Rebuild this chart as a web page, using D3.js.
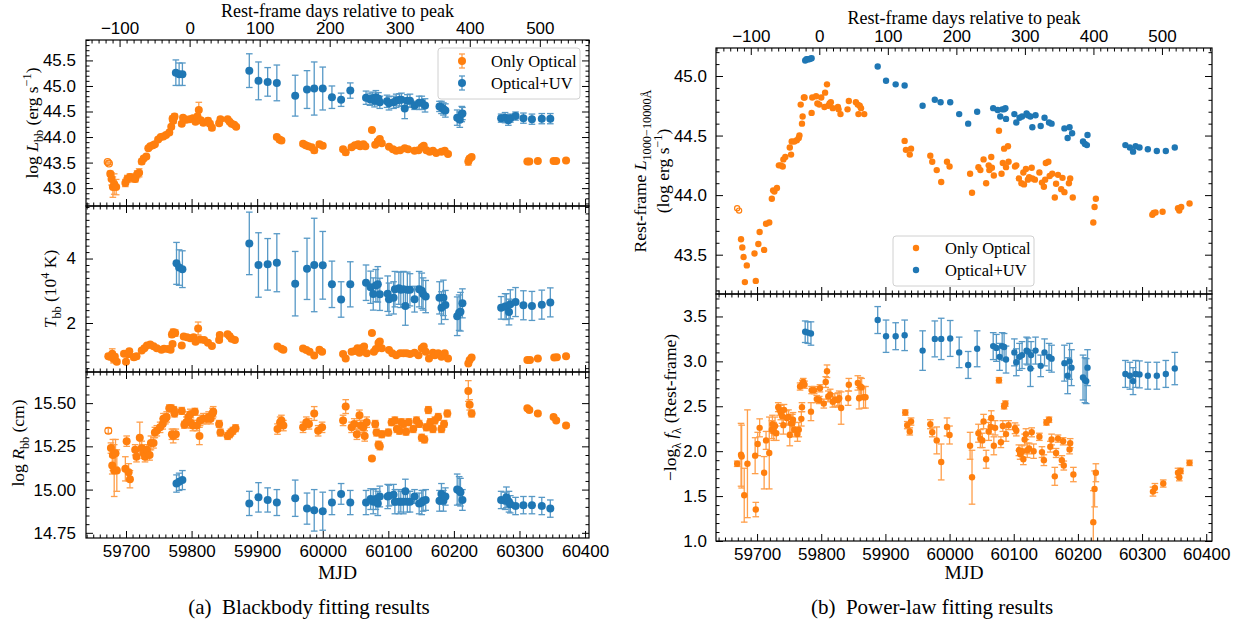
<!DOCTYPE html>
<html>
<head>
<meta charset="utf-8">
<script src="https://cdn.jsdelivr.net/npm/d3@7"></script>
<style>
  body { margin: 0; background: #fff; }
  svg { font-family: "Liberation Serif", "Times New Roman", serif; }
  .tick text { font-size: 17px; fill: #000; }
  .tick line { stroke: #000; }
</style>
</head>
<body>
<svg id="chart" width="1245" height="624"></svg>
<script>
// [MJD, value, error, hollow]
const bbLumOpt = [
  [59672,43.51,0.02,1],[59674,43.48,0.02,1],[59676,43.28,0.05],[59678,43.18,0.12],[59680,43.02,0.2],
  [59682,43.08,0.2],[59685,43.02,0.15],[59699,43.10,0.07],[59702,43.18,0.07],[59706,43.22,0.06],
  [59710,43.20,0.08],[59714,43.18,0.06],[59717,43.27,0.07],[59720,43.30,0.08],[59724,43.52,0.05],
  [59727,43.58,0.04],[59731,43.62,0.04],[59734,43.78,0.03],[59737,43.82,0.03],[59741,43.84,0.03],
  [59744,43.86,0.03],[59749,43.95,0.03],[59753,44.00,0.03],[59757,44.01,0.03],[59761,44.04,0.03],
  [59766,44.09,0.04],[59769,44.20,0.04],[59771,44.36,0.05],[59772,44.32,0.05],[59774,44.40,0.05],
  [59785,44.26,0.04],[59787,44.38,0.04],[59792,44.34,0.04],[59797,44.35,0.04],[59802,44.37,0.04],
  [59806,44.30,0.04],[59809,44.40,0.05],[59811,44.53,0.15],[59814,44.33,0.04],[59818,44.28,0.05],
  [59825,44.32,0.05],[59828,44.26,0.05],[59831,44.18,0.05],[59842,44.27,0.04],[59844,44.35,0.04],
  [59855,44.35,0.03],[59858,44.30,0.03],[59861,44.26,0.03],[59865,44.24,0.03],[59868,44.20,0.03],
  [59930,44.00,0.04],[59934,43.95,0.04],[59937,43.93,0.04],[59970,43.87,0.04],[59974,43.84,0.03],
  [59978,43.82,0.03],[59983,43.80,0.03],[59987,43.74,0.05],[59995,43.86,0.04],[60000,43.83,0.04],
  [60031,43.76,0.04],[60035,43.70,0.05],[60044,43.80,0.04],[60049,43.84,0.03],[60054,43.86,0.03],
  [60057,43.82,0.03],[60062,43.86,0.03],[60065,43.82,0.03],[60075,44.14,0.02],[60080,43.85,0.03],
  [60084,43.92,0.03],[60087,43.96,0.03],[60090,43.88,0.03],[60101,43.81,0.03],[60107,43.76,0.03],
  [60112,43.73,0.03],[60118,43.74,0.03],[60125,43.78,0.03],[60130,43.76,0.03],[60140,43.73,0.03],
  [60146,43.74,0.03],[60151,43.80,0.03],[60154,43.83,0.03],[60158,43.74,0.03],[60163,43.71,0.03],
  [60168,43.73,0.03],[60173,43.69,0.03],[60181,43.71,0.03],[60186,43.73,0.03],[60191,43.67,0.03],
  [60222,43.52,0.07],[60224,43.58,0.04],[60227,43.61,0.03],[60312,43.52,0.02],[60315,43.52,0.02],
  [60328,43.53,0.02],[60352,43.53,0.02],[60356,43.53,0.02],[60371,43.54,0.02]
];
const bbLumUV = [
  [59776,45.26,0.25],[59781,45.23,0.22],[59786,45.23,0.22],[59888,45.30,0.33],[59902,45.10,0.37],
  [59916,45.08,0.28],[59930,45.06,0.35],[59958,44.81,0.40],[59976,44.93,0.37],[59987,44.95,0.52],
  [60000,44.95,0.42],[60014,44.78,0.22],[60028,44.73,0.13],[60042,44.91,0.15],[60066,44.77,0.13],
  [60072,44.74,0.12],[60076,44.76,0.12],[60079,44.71,0.12],[60081,44.78,0.13],[60085,44.75,0.12],
  [60087,44.68,0.12],[60098,44.70,0.12],[60101,44.66,0.13],[60108,44.68,0.12],[60112,44.71,0.13],
  [60117,44.73,0.12],[60120,44.73,0.13],[60125,44.56,0.2],[60129,44.71,0.12],[60133,44.71,0.13],
  [60140,44.62,0.08],[60147,44.67,0.13],[60151,44.67,0.13],[60156,44.62,0.13],[60178,44.60,0.1],
  [60181,44.58,0.12],[60184,44.55,0.12],[60187,44.52,0.13],[60205,44.38,0.15],[60209,44.34,0.15],
  [60212,44.45,0.15],[60213,44.46,0.12],[60272,44.37,0.08],[60278,44.38,0.1],[60283,44.33,0.1],
  [60286,44.37,0.08],[60294,44.41,0.08],[60306,44.37,0.1],[60319,44.35,0.1],[60334,44.36,0.1],
  [60347,44.36,0.1]
];
const bbTempOpt = [
  [59673,0.97,0.06],[59676,0.95,0.08],[59679,1.05,0.15],[59681,0.88,0.12],[59683,0.95,0.08],
  [59686,0.80,0.06],[59697,1.05,0.06],[59700,0.80,0.05],[59703,1.03,0.06],[59705,1.12,0.06],
  [59712,0.94,0.08],[59716,0.97,0.08],[59724,1.15,0.05],[59728,1.22,0.05],[59732,1.30,0.05],
  [59737,1.33,0.05],[59742,1.28,0.05],[59747,1.22,0.05],[59754,1.17,0.05],[59758,1.20,0.05],
  [59764,1.19,0.05],[59768,1.17,0.05],[59770,1.64,0.08],[59772,1.71,0.1],[59775,1.69,0.1],
  [59771,1.35,0.05],[59785,1.30,0.05],[59788,1.58,0.06],[59793,1.56,0.06],[59798,1.53,0.06],
  [59803,1.56,0.06],[59806,1.42,0.06],[59810,1.83,0.2],[59813,1.49,0.06],[59819,1.47,0.06],
  [59825,1.39,0.06],[59831,1.29,0.05],[59842,1.47,0.06],[59843,1.63,0.06],[59855,1.65,0.06],
  [59858,1.59,0.06],[59861,1.51,0.06],[59866,1.47,0.05],[59931,1.27,0.06],[59937,1.20,0.05],
  [59940,1.17,0.05],[59970,1.21,0.05],[59975,1.16,0.05],[59980,1.11,0.05],[59987,0.99,0.05],
  [59995,1.17,0.05],[59999,1.11,0.05],[60031,1.04,0.05],[60035,0.90,0.05],[60044,1.11,0.05],
  [60049,1.13,0.05],[60053,1.22,0.05],[60056,1.08,0.05],[60059,1.22,0.05],[60063,1.27,0.05],
  [60067,1.06,0.05],[60075,1.69,0.04],[60078,1.11,0.05],[60081,1.19,0.05],[60085,1.38,0.05],
  [60087,1.43,0.05],[60090,1.22,0.05],[60101,1.16,0.04],[60106,1.06,0.04],[60112,1.00,0.04],
  [60118,1.06,0.04],[60123,1.06,0.04],[60128,1.06,0.04],[60133,1.04,0.04],[60140,1.08,0.04],
  [60146,1.00,0.04],[60151,1.22,0.04],[60154,1.27,0.04],[60157,1.11,0.04],[60162,0.90,0.04],
  [60168,1.08,0.04],[60171,1.00,0.04],[60176,1.06,0.04],[60181,0.95,0.04],[60186,1.06,0.04],
  [60191,0.90,0.04],[60222,0.74,0.04],[60224,0.85,0.04],[60227,0.93,0.04],[60312,0.85,0.03],
  [60316,0.85,0.03],[60328,0.90,0.03],[60353,0.93,0.03],[60357,0.94,0.03],[60371,0.97,0.03]
];
const bbTempUV = [
  [59777,3.85,0.65],[59781,3.72,0.55],[59786,3.67,0.57],[59888,4.47,0.97],[59902,3.80,1.0],
  [59916,3.82,0.8],[59930,3.87,0.9],[59958,3.22,1.0],[59976,3.68,0.95],[59987,3.80,1.45],
  [60000,3.79,1.05],[60014,3.20,0.72],[60028,2.73,0.55],[60042,3.20,0.7],[60066,3.25,0.55],
  [60073,3.11,0.5],[60077,2.90,0.5],[60081,3.16,0.5],[60084,3.20,0.55],[60087,2.89,0.5],
  [60099,2.91,0.55],[60101,2.74,0.5],[60108,2.78,0.5],[60110,3.05,0.55],[60116,3.08,0.5],
  [60119,3.03,0.55],[60123,3.05,0.55],[60126,2.53,0.6],[60129,3.03,0.55],[60133,3.03,0.5],
  [60140,2.74,0.4],[60147,3.05,0.55],[60151,3.00,0.55],[60153,2.90,0.5],[60157,2.82,0.5],
  [60178,2.78,0.5],[60181,2.47,0.5],[60184,2.78,0.55],[60187,2.56,0.45],[60205,2.21,0.6],
  [60208,2.32,0.55],[60210,2.35,0.6],[60213,2.61,0.45],[60272,2.47,0.35],[60278,2.51,0.4],
  [60280,2.51,0.4],[60284,2.34,0.4],[60286,2.58,0.45],[60294,2.65,0.45],[60306,2.55,0.45],
  [60319,2.53,0.45],[60334,2.57,0.45],[60347,2.64,0.45]
];
const bbRadOpt = [
  [59673,15.34,0.015,1],[59677,15.24,0.03],[59679,15.14,0.05],[59680,15.20,0.09],[59682,15.11,0.15],
  [59684,15.21,0.08],[59686,15.11,0.12],[59699,15.12,0.07],[59701,15.28,0.03],[59704,15.10,0.05],
  [59706,15.06,0.05],[59714,15.23,0.03],[59716,15.19,0.03],[59721,15.30,0.09],[59724,15.24,0.04],
  [59727,15.21,0.03],[59729,15.19,0.03],[59732,15.23,0.03],[59736,15.20,0.03],[59738,15.27,0.04],
  [59742,15.27,0.03],[59744,15.33,0.03],[59747,15.34,0.03],[59752,15.36,0.03],[59756,15.38,0.03],
  [59757,15.41,0.03],[59760,15.41,0.03],[59762,15.42,0.03],[59766,15.47,0.02],[59769,15.47,0.02],
  [59770,15.32,0.03],[59772,15.31,0.04],[59773,15.46,0.02],[59774,15.44,0.02],[59776,15.32,0.03],
  [59785,15.455,0.02],[59789,15.375,0.02],[59792,15.39,0.03],[59795,15.42,0.03],[59798,15.435,0.03],
  [59799,15.385,0.03],[59802,15.37,0.03],[59805,15.45,0.02],[59808,15.37,0.03],[59812,15.31,0.05],
  [59813,15.40,0.03],[59818,15.41,0.03],[59823,15.41,0.03],[59826,15.42,0.03],[59829,15.41,0.03],
  [59832,15.44,0.03],[59833,15.45,0.03],[59842,15.38,0.02],[59844,15.33,0.02],[59855,15.31,0.02],
  [59858,15.32,0.02],[59860,15.33,0.02],[59863,15.34,0.02],[59867,15.355,0.02],[59931,15.35,0.03],
  [59935,15.39,0.03],[59937,15.40,0.03],[59940,15.37,0.03],[59970,15.36,0.03],[59975,15.39,0.03],
  [59979,15.38,0.03],[59987,15.44,0.04],[59993,15.34,0.03],[59999,15.36,0.03],[60031,15.40,0.03],
  [60035,15.48,0.04],[60044,15.36,0.03],[60048,15.38,0.03],[60052,15.32,0.03],[60056,15.43,0.03],
  [60058,15.37,0.03],[60062,15.36,0.03],[60064,15.31,0.03],[60067,15.39,0.03],[60075,15.18,0.01],
  [60080,15.38,0.02],[60082,15.33,0.02],[60085,15.26,0.02],[60087,15.25,0.02],[60090,15.32,0.02],
  [60100,15.33,0.02],[60105,15.39,0.02],[60110,15.40,0.02],[60113,15.35,0.02],[60117,15.34,0.02],
  [60120,15.39,0.02],[60123,15.38,0.02],[60127,15.335,0.02],[60131,15.39,0.02],[60138,15.35,0.02],
  [60143,15.40,0.02],[60147,15.38,0.02],[60151,15.30,0.02],[60155,15.29,0.02],[60158,15.36,0.02],
  [60161,15.46,0.02],[60164,15.39,0.02],[60168,15.35,0.02],[60171,15.40,0.02],[60176,15.42,0.02],
  [60181,15.35,0.02],[60185,15.38,0.02],[60190,15.44,0.02],[60222,15.57,0.06],[60224,15.49,0.03],
  [60227,15.44,0.02],[60312,15.47,0.01],[60315,15.46,0.01],[60328,15.44,0.01],[60352,15.42,0.01],
  [60356,15.40,0.01],[60371,15.37,0.01]
];
const bbRadUV = [
  [59777,15.035,0.05],[59781,15.045,0.05],[59786,15.055,0.055],[59888,14.92,0.07],[59902,14.955,0.085],
  [59916,14.94,0.07],[59930,14.925,0.075],[59958,14.95,0.105],[59976,14.89,0.09],[59987,14.88,0.12],
  [60000,14.875,0.11],[60014,14.925,0.07],[60028,14.975,0.06],[60042,14.925,0.07],[60066,14.925,0.07],
  [60073,14.945,0.06],[60077,14.93,0.07],[60081,14.945,0.06],[60084,14.92,0.07],[60087,14.96,0.06],
  [60099,14.96,0.07],[60101,14.965,0.06],[60108,14.97,0.06],[60110,14.93,0.07],[60116,14.93,0.07],
  [60119,14.93,0.06],[60123,14.93,0.07],[60126,14.99,0.07],[60129,14.93,0.06],[60133,14.93,0.06],
  [60140,14.96,0.04],[60147,14.92,0.06],[60151,14.925,0.07],[60153,14.935,0.06],[60157,14.94,0.06],
  [60178,14.935,0.06],[60181,14.975,0.06],[60184,14.935,0.06],[60187,14.96,0.05],[60205,15.00,0.09],
  [60208,14.995,0.08],[60210,14.985,0.08],[60213,14.94,0.06],[60272,14.94,0.05],[60278,14.935,0.05],
  [60280,14.955,0.06],[60284,14.93,0.06],[60286,14.915,0.05],[60294,14.905,0.05],[60306,14.91,0.05],
  [60319,14.91,0.05],[60334,14.905,0.05],[60347,14.89,0.05]
];
// power-law fits: [MJD, value, error, hollow]
const plLumOpt = [
  [59669,43.89,0,1],[59672,43.87,0,1],[59675,43.63],[59677,43.56],[59679,43.48],[59681,43.27],
  [59684,43.41],[59696,43.51],[59698,43.28],[59702,43.59],[59704,43.69],[59711,43.54],[59714,43.76],
  [59719,43.77],[59723,43.97],[59725,44.04],[59727,44.03],[59731,44.06],[59734,44.25],[59737,44.25],
  [59740,44.24],[59741,44.30],[59744,44.32],[59751,44.40],[59753,44.34],[59754,44.45],[59758,44.45],
  [59762,44.46],[59765,44.48],[59766,44.50],[59768,44.76],[59770,44.60],[59771,44.66],[59773,44.82],
  [59774,44.82],[59785,44.69],[59786,44.82],[59792,44.83],[59794,44.77],[59797,44.76],[59800,44.82],
  [59805,44.74],[59806,44.86],[59809,44.93],[59811,44.75],[59813,44.77],[59815,44.78],[59818,44.73],
  [59826,44.74],[59827,44.72],[59830,44.68],[59841,44.72],[59843,44.79],[59854,44.78],[59857,44.76],
  [59858,44.68],[59860,44.75],[59862,44.73],[59867,44.68],[59930,44.455],[59932,44.38],[59938,44.34],
  [59940,44.39],[59970,44.33],[59973,44.28],[59980,44.21],[59987,44.11],[59996,44.28],[60000,44.24],
  [60032,44.18],[60035,44.02],[60045,44.235],[60048,44.21],[60053,44.30],[60057,44.10],[60061,44.25],
  [60062,44.21],[60065,44.32],[60066,44.23],[60069,44.165],[60077,44.54],[60081,44.18],[60083,44.27],
  [60085,44.39],[60088,44.235],[60091,44.41],[60092,44.28],[60102,44.24],[60104,44.25],[60108,44.14],
  [60112,44.10],[60115,44.19],[60116,44.09],[60119,44.22],[60122,44.13],[60124,44.15],[60128,44.23],
  [60129,44.14],[60133,44.13],[60140,44.19],[60144,44.105],[60147,44.07],[60149,44.13],[60150,44.27],
  [60154,44.28],[60156,44.16],[60160,44.18],[60164,43.98],[60166,44.095],[60169,44.17],[60174,44.05],
  [60176,44.145],[60179,44.025],[60186,44.10],[60188,44.14],[60192,43.98],[60224,43.77],[60226,43.90],
  [60228,43.97],[60316,43.835],[60318,43.85],[60321,43.855],[60332,43.86],[60356,43.89],[60358,43.87],
  [60361,43.90],[60374,43.93]
];
const plLumUV = [
  [59775,45.13],[59777,45.14],[59779,45.14],[59781,45.14],[59783,45.145],[59785,45.15],[59888,45.08],
  [59901,44.96],[59916,44.93],[59930,44.92],[59958,44.75],[59977,44.80],[59986,44.78],[60001,44.78],
  [60015,44.68],[60029,44.60],[60043,44.70],[60068,44.73],[60075,44.715],[60079,44.66],[60082,44.72],
  [60085,44.72],[60087,44.73],[60088,44.64],[60101,44.68],[60104,44.61],[60109,44.65],[60113,44.66],
  [60120,44.685],[60122,44.67],[60126,44.66],[60129,44.57],[60134,44.67],[60142,44.58],[60148,44.65],
  [60155,44.61],[60159,44.60],[60179,44.56],[60184,44.48],[60187,44.57],[60191,44.52],[60208,44.45],
  [60211,44.43],[60214,44.42],[60215,44.505],[60274,44.42],[60281,44.40],[60286,44.365],[60290,44.41],
  [60296,44.40],[60309,44.385],[60323,44.37],[60337,44.37],[60351,44.40]
];
const plSlopeOpt = [
  [59669,1.86,0.03],[59675,1.96,0.35],[59676,1.94,0.35],[59680,1.51,0.3],[59685,1.86,0.6],
  [59697,1.95,0.2],[59698,1.35,0.08],[59701,2.08,0.13],[59704,2.26,0.1],[59711,1.76,0.18],
  [59714,2.12,0.1],[59719,1.98,0.4],[59723,2.24,0.1],[59724,2.30,0.1],[59726,2.22,0.1],
  [59728,2.28,0.1],[59730,2.20,0.08],[59733,2.49,0.05],[59735,2.46,0.06],[59737,2.43,0.08],
  [59739,2.39,0.08],[59741,2.29,0.1],[59742,2.46,0.06],[59746,2.37,0.08],[59749,2.38,0.08],
  [59751,2.18,0.12],[59753,2.31,0.1],[59755,2.31,0.1],[59756,2.35,0.08],[59758,2.24,0.08],
  [59763,2.19,0.08],[59765,2.24,0.08],[59769,2.36,0.08],[59770,2.49,0.05],[59767,2.72,0.04],
  [59770.5,2.75,0.04],[59772,2.77,0.04],[59774,2.74,0.04],[59784,2.44,0.1],[59785,2.68,0.04],
  [59789,2.68,0.04],[59793,2.58,0.04],[59797,2.57,0.04],[59798,2.70,0.04],[59804,2.53,0.05],
  [59807,2.77,0.06],[59809,2.89,0.07],[59811,2.61,0.06],[59814,2.63,0.06],[59818,2.55,0.06],
  [59821,2.57,0.07],[59826,2.57,0.08],[59828,2.59,0.08],[59831,2.48,0.18],[59842,2.59,0.08],
  [59843,2.74,0.07],[59857,2.76,0.08],[59859,2.59,0.12],[59861,2.72,0.1],[59863,2.71,0.1],
  [59866,2.60,0.12],[59869,2.60,0.12],[59931,2.43,0.03],[59934,2.29,0.04],[59938,2.22,0.04],
  [59940,2.33,0.04],[59970,2.30,0.05],[59973,2.21,0.05],[59980,2.12,0.15],[59987,1.88,0.2],
  [59996,2.27,0.1],[60000,2.18,0.1],[60032,2.06,0.15],[60035,1.71,0.3],[60045,2.20,0.1],
  [60048,2.14,0.1],[60051,2.12,0.08],[60053,2.33,0.08],[60057,1.91,0.1],[60061,2.22,0.1],
  [60064,2.27,0.08],[60065,2.37,0.08],[60069,2.06,0.1],[60071,2.26,0.08],[60077,2.79,0.03],
  [60080,2.10,0.06],[60083,2.28,0.06],[60085,2.50,0.03],[60087,2.53,0.03],[60088,2.19,0.08],
  [60092,2.29,0.05],[60102,2.255,0.06],[60104,2.23,0.06],[60108,2.01,0.06],[60110,1.97,0.06],
  [60113,2.00,0.06],[60115,1.91,0.06],[60117,2.13,0.06],[60119,2.19,0.06],[60121,2.01,0.08],
  [60124,2.03,0.06],[60128,2.21,0.05],[60131,2.00,0.08],[60140,2.16,0.04],[60144,1.99,0.06],
  [60147,1.90,0.06],[60151,2.32,0.03],[60155,2.35,0.03],[60157,2.05,0.06],[60159,2.13,0.06],
  [60164,1.72,0.1],[60166,1.98,0.05],[60169,2.14,0.04],[60175,1.90,0.05],[60177,2.11,0.04],
  [60178,1.84,0.05],[60187,2.02,0.05],[60188,2.09,0.05],[60193,1.74,0.08],[60224,1.21,0.35],
  [60226,1.58,0.2],[60228,1.76,0.1],[60317,1.55,0.05],[60320,1.59,0.05],[60333,1.64,0.04],
  [60356,1.76,0.05],[60358,1.71,0.04],[60360,1.78,0.03],[60374,1.87,0.03]
];
const plSlopeUV = [
  [59775,3.33,0.12],[59779,3.32,0.12],[59784,3.31,0.13],[59888,3.46,0.15],[59901,3.28,0.18],
  [59916,3.28,0.15],[59930,3.29,0.17],[59958,3.12,0.22],[59977,3.25,0.2],[59987,3.25,0.23],
  [60001,3.255,0.2],[60015,3.10,0.17],[60029,2.96,0.15],[60043,3.14,0.2],[60068,3.17,0.15],
  [60073,3.15,0.15],[60078,3.05,0.15],[60082,3.17,0.15],[60085,3.16,0.15],[60088,3.02,0.15],
  [60101,3.10,0.15],[60104,2.99,0.15],[60109,3.05,0.15],[60113,3.07,0.15],[60120,3.12,0.15],
  [60122,3.11,0.15],[60126,2.92,0.2],[60127,3.07,0.15],[60134,3.12,0.15],[60142,2.95,0.12],
  [60148,3.10,0.15],[60155,3.05,0.15],[60159,3.03,0.15],[60179,2.98,0.2],[60184,2.84,0.2],
  [60187,3.00,0.2],[60190,2.93,0.2],[60208,2.82,0.25],[60211,2.79,0.25],[60213,2.78,0.25],
  [60215,2.93,0.2],[60274,2.86,0.15],[60281,2.84,0.15],[60286,2.78,0.15],[60290,2.86,0.15],
  [60296,2.855,0.15],[60309,2.84,0.15],[60323,2.84,0.15],[60337,2.86,0.15],[60351,2.92,0.18]
];

const mjdTicks = [59700, 59800, 59900, 60000, 60100, 60200, 60300, 60400];
const restTicks = [-100, 0, 100, 200, 300, 400, 500];
const seriesLabels = ['Only Optical', 'Optical+UV'];
const peakMJD = 59797, onePlusZ = 1.068;

const ORANGE = '#ff7f0e', BLUE = '#1f77b4';
const svg = d3.select('#chart');

// text with italic / sub / sup pieces
function rich(text, parts, fs) {
  let off = 0;
  parts.forEach(p => {
    const target = p.sub ? fs * 0.3 : p.sup ? -fs * 0.42 : 0;
    const ts = text.append('tspan').text(p.t).attr('dy', target - off);
    if (p.sub || p.sup) ts.attr('font-size', fs * 0.7);
    if (p.it) ts.attr('font-style', 'italic');
    off = target;
  });
}

function minorTicks(lo, hi, step, majors) {
  const out = [];
  const n0 = Math.ceil(lo / step - 1e-9), n1 = Math.floor(hi / step + 1e-9);
  for (let n = n0; n <= n1; n++) {
    const v = +(n * step).toFixed(6);
    if (!majors.some(m => Math.abs(m - v) < step / 10)) out.push(v);
  }
  return out;
}

let clipId = 0;
function drawSubplot(p, sp, idx, last) {
  const x = d3.scaleLinear().domain(p.xDomain).range([p.x0, p.x1]);
  const y = d3.scaleLinear().domain(sp.domain).range([sp.y1, sp.y0]);
  const g = svg.append('g');

  const cid = 'clip' + (clipId++);
  svg.append('clipPath').attr('id', cid).append('rect')
    .attr('x', p.x0).attr('y', sp.y0).attr('width', p.x1 - p.x0).attr('height', sp.y1 - sp.y0);
  const plot = g.append('g').attr('clip-path', `url(#${cid})`);

  [[sp.opt, ORANGE], [sp.uv, BLUE]].forEach(([data, color]) => {
    if (sp.err) {
      const eg = plot.append('g').attr('stroke', color).attr('stroke-width', 1.3).attr('opacity', 0.75);
      data.forEach(d => {
        const cx = x(d[0]), lo = y(d[1] - d[2]), hi = y(d[1] + d[2]);
        eg.append('line').attr('x1', cx).attr('x2', cx).attr('y1', lo).attr('y2', hi);
        eg.append('line').attr('x1', cx - p.cap).attr('x2', cx + p.cap).attr('y1', lo).attr('y2', lo);
        eg.append('line').attr('x1', cx - p.cap).attr('x2', cx + p.cap).attr('y1', hi).attr('y2', hi);
      });
    }
    plot.append('g').selectAll('circle').data(data).enter().append('circle')
      .attr('cx', d => x(d[0])).attr('cy', d => y(d[1]))
      .attr('r', d => d[3] ? p.r - 0.6 : p.r)
      .attr('fill', d => d[3] ? 'none' : color)
      .attr('stroke', d => d[3] ? color : 'none')
      .attr('stroke-width', 1.2);
  });

  const yMinor = minorTicks(sp.domain[0], sp.domain[1], sp.minor, sp.ticks);
  const xMinor = minorTicks(p.xDomain[0], p.xDomain[1], 10, mjdTicks);

  const clean = a => a.call(s => s.select('.domain').remove());

  // left
  g.append('g').attr('transform', `translate(${p.x0},0)`)
    .call(d3.axisLeft(y).tickValues(sp.ticks).tickFormat(d3.format(sp.fmt))
      .tickSizeInner(-7).tickSizeOuter(0).tickPadding(p.ypad)).call(clean);
  g.append('g').attr('transform', `translate(${p.x0},0)`)
    .call(d3.axisLeft(y).tickValues(yMinor).tickFormat('').tickSizeInner(-3.5).tickSizeOuter(0)).call(clean);
  // right
  g.append('g').attr('transform', `translate(${p.x1},0)`)
    .call(d3.axisRight(y).tickValues(sp.ticks).tickFormat('').tickSizeInner(-7).tickSizeOuter(0)).call(clean);
  g.append('g').attr('transform', `translate(${p.x1},0)`)
    .call(d3.axisRight(y).tickValues(yMinor).tickFormat('').tickSizeInner(-3.5).tickSizeOuter(0)).call(clean);
  // bottom
  g.append('g').attr('transform', `translate(0,${sp.y1})`)
    .call(d3.axisBottom(x).tickValues(mjdTicks).tickFormat(last ? d3.format('d') : '')
      .tickSizeInner(-7).tickSizeOuter(0).tickPadding(7)).call(clean);
  g.append('g').attr('transform', `translate(0,${sp.y1})`)
    .call(d3.axisBottom(x).tickValues(xMinor).tickFormat('').tickSizeInner(-3.5).tickSizeOuter(0)).call(clean);
  // top
  if (idx === 0) {
    const xr = d3.scaleLinear()
      .domain(p.xDomain.map(m => (m - peakMJD) / onePlusZ)).range([p.x0, p.x1]);
    const rd = xr.domain();
    g.append('g').attr('transform', `translate(0,${sp.y0})`)
      .call(d3.axisTop(xr).tickValues(restTicks).tickFormat(d3.format('d'))
        .tickSizeInner(-7).tickSizeOuter(0).tickPadding(p.topPad)).call(clean);
    g.append('g').attr('transform', `translate(0,${sp.y0})`)
      .call(d3.axisTop(xr).tickValues(minorTicks(rd[0], rd[1], 10, restTicks)).tickFormat('')
        .tickSizeInner(-3.5).tickSizeOuter(0)).call(clean);
  } else {
    g.append('g').attr('transform', `translate(0,${sp.y0})`)
      .call(d3.axisTop(x).tickValues(mjdTicks).tickFormat('').tickSizeInner(-7).tickSizeOuter(0)).call(clean);
    g.append('g').attr('transform', `translate(0,${sp.y0})`)
      .call(d3.axisTop(x).tickValues(xMinor).tickFormat('').tickSizeInner(-3.5).tickSizeOuter(0)).call(clean);
  }
  g.selectAll('.tick line').attr('stroke-width', 1);

  // frame
  g.append('rect').attr('x', p.x0).attr('y', sp.y0).attr('width', p.x1 - p.x0).attr('height', sp.y1 - sp.y0)
    .attr('fill', 'none').attr('stroke', '#000').attr('stroke-width', 1.2);

  // y label(s)
  sp.ylabel.forEach(l => {
    const t = svg.append('text')
      .attr('transform', `translate(${l.x},${(sp.y0 + sp.y1) / 2 + (l.dy || 0)}) rotate(-90)`)
      .attr('text-anchor', 'middle').attr('font-size', 17.5).attr('fill', '#000');
    rich(t, l.parts, 17.5);
  });
}

function drawLegend(box, withErr, r) {
  const lg = svg.append('g');
  lg.append('rect').attr('x', box.x).attr('y', box.y).attr('width', box.w).attr('height', box.h)
    .attr('rx', 3).attr('fill', '#fff').attr('fill-opacity', 0.8).attr('stroke', '#d0d0d0');
  [ORANGE, BLUE].forEach((c, i) => {
    const cy = box.y + box.first + i * 22;
    if (withErr) {
      const e = lg.append('g').attr('stroke', c).attr('stroke-width', 1.3).attr('opacity', 0.75);
      e.append('line').attr('x1', box.mx).attr('x2', box.mx).attr('y1', cy - 7).attr('y2', cy + 7);
      e.append('line').attr('x1', box.mx - 3).attr('x2', box.mx + 3).attr('y1', cy - 7).attr('y2', cy - 7);
      e.append('line').attr('x1', box.mx - 3).attr('x2', box.mx + 3).attr('y1', cy + 7).attr('y2', cy + 7);
    }
    lg.append('circle').attr('cx', box.mx).attr('cy', cy).attr('r', r).attr('fill', c);
    lg.append('text').attr('x', box.tx).attr('y', cy + 5.5).attr('font-size', 16.5).text(seriesLabels[i]);
  });
}

const panelA = {
  x0: 86, x1: 589, xDomain: [59639, 60406], r: 4, cap: 3.3, ypad: 10, topPad: 6.5,
  subplots: [
    { y0: 40, y1: 206, domain: [42.65, 45.9], ticks: [43, 43.5, 44, 44.5, 45, 45.5], minor: 0.1, fmt: '.1f',
      opt: bbLumOpt, uv: bbLumUV, err: true,
      ylabel: [{ x: 38, parts: [{ t: 'log ' }, { t: 'L', it: true }, { t: 'bb', sub: true }, { t: ' (erg s' }, { t: '−1', sup: true }, { t: ')' }] }] },
    { y0: 206, y1: 372, domain: [0.48, 5.63], ticks: [2, 4], minor: 0.2, fmt: 'd',
      opt: bbTempOpt, uv: bbTempUV, err: true,
      ylabel: [{ x: 56, parts: [{ t: 'T', it: true }, { t: 'bb', sub: true }, { t: ' (10' }, { t: '4', sup: true }, { t: ' K)' }] }] },
    { y0: 372, y1: 538, domain: [14.72, 15.68], ticks: [14.75, 15, 15.25, 15.5], minor: 0.05, fmt: '.2f',
      opt: bbRadOpt, uv: bbRadUV, err: true,
      ylabel: [{ x: 24, dy: -12, parts: [{ t: 'log ' }, { t: 'R', it: true }, { t: 'bb', sub: true }, { t: ' (cm)' }] }] }
  ]
};
const panelB = {
  x0: 716, x1: 1212, xDomain: [59636, 60409], r: 3.2, cap: 3.3, ypad: 9, topPad: 6.5,
  subplots: [
    { y0: 48, y1: 294, domain: [43.17, 45.235], ticks: [43.5, 44, 44.5, 45], minor: 0.1, fmt: '.1f',
      opt: plLumOpt, uv: plLumUV, err: false,
      ylabel: [
        { x: 646, parts: [{ t: 'Rest-frame ' }, { t: 'L', it: true }, { t: '1000−10000Å', sub: true }] },
        { x: 669, parts: [{ t: '(log erg s' }, { t: '−1', sup: true }, { t: ')' }] }
      ] },
    { y0: 294, y1: 541, domain: [1.0, 3.75], ticks: [1, 1.5, 2, 2.5, 3, 3.5], minor: 0.1, fmt: '.1f',
      opt: plSlopeOpt, uv: plSlopeUV, err: true,
      ylabel: [{ x: 676, dy: -10, parts: [{ t: '−log' }, { t: 'λ', sub: true }, { t: ' ' }, { t: 'f', it: true }, { t: 'λ', sub: true }, { t: ' (Rest-frame)' }] }] }
  ]
};

[panelA, panelB].forEach(p => {
  p.subplots.forEach((sp, i) => drawSubplot(p, sp, i, i === p.subplots.length - 1));
  const cx = (p.x0 + p.x1) / 2;
  const top = p.subplots[0].y0;
  svg.append('text').attr('x', cx).attr('y', Math.max(top - 24, 16.5)).attr('text-anchor', 'middle')
    .attr('font-size', 18).text('Rest-frame days relative to peak');
  svg.append('text').attr('x', cx).attr('y', 579).attr('text-anchor', 'middle')
    .attr('font-size', 19.5).text('MJD');
});

drawLegend({ x: 438, y: 48, w: 142, h: 51, first: 13, mx: 462, tx: 491 }, true, 4);
drawLegend({ x: 893, y: 236, w: 141, h: 50, first: 12, mx: 916, tx: 945 }, false, 3.2);

svg.append('text').attr('x', 309).attr('y', 614).attr('text-anchor', 'middle').attr('font-size', 21)
  .attr('xml:space', 'preserve').text('(a)  Blackbody fitting results');
svg.append('text').attr('x', 932).attr('y', 614).attr('text-anchor', 'middle').attr('font-size', 21)
  .attr('xml:space', 'preserve').text('(b)  Power-law fitting results');
</script>
</body>
</html>
